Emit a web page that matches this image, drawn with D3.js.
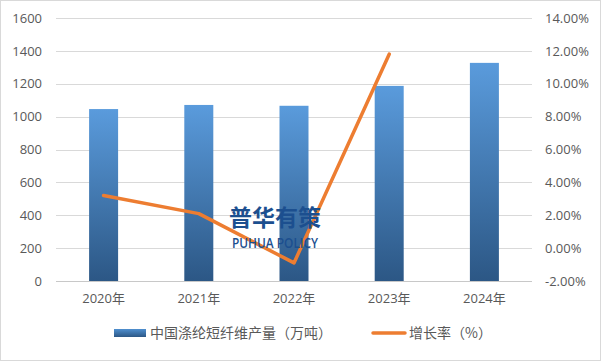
<!DOCTYPE html>
<html>
<head>
<meta charset="utf-8">
<script src="https://cdn.jsdelivr.net/npm/d3@7"></script>
<style>
  body { margin: 0; background: #fff; }
  text { font-family: "Noto Sans CJK SC", "Open Sans", sans-serif; }
</style>
</head>
<body>
<div id="chart"></div>
<script>
// data
var years = ["2020年", "2021年", "2022年", "2023年", "2024年"];
var output = [1046, 1071, 1066, 1187, 1327];
var growth = [3.2, 2.1, -0.9, 11.8, null];
var leftTicks = [0, 200, 400, 600, 800, 1000, 1200, 1400, 1600];
var rightTicks = [-2, 0, 2, 4, 6, 8, 10, 12, 14];

var svgWidth = 601;
var svgHeight = 361;
var margin = { top: 18, right: 69, bottom: 80, left: 56 };
var width = svgWidth - margin.left - margin.right;
var height = 281 - margin.top;

var svg = d3.select("#chart")
    .append("svg")
    .attr("width", svgWidth)
    .attr("height", svgHeight);

// outer border
svg.append("rect")
    .attr("x", 0.5).attr("y", 0.5)
    .attr("width", svgWidth - 1).attr("height", svgHeight - 1)
    .attr("fill", "#fff")
    .attr("stroke", "#d9d9d9");

var defs = svg.append("defs");
var grad = defs.append("linearGradient")
    .attr("id", "barGrad")
    .attr("x1", 0).attr("y1", 0).attr("x2", 0).attr("y2", 1);
grad.append("stop").attr("offset", "0%").attr("stop-color", "#5a9bdc");
grad.append("stop").attr("offset", "100%").attr("stop-color", "#2c5785");

var legGrad = defs.append("linearGradient")
    .attr("id", "legGrad")
    .attr("x1", 0).attr("y1", 0).attr("x2", 0).attr("y2", 1);
legGrad.append("stop").attr("offset", "0%").attr("stop-color", "#4f8fcf");
legGrad.append("stop").attr("offset", "100%").attr("stop-color", "#2c5785");

var g = svg.append("g")
    .attr("transform", `translate(${margin.left}, ${margin.top})`);

var x = d3.scaleBand()
    .domain(years)
    .range([0, width]);

var yLeft = d3.scaleLinear()
    .domain([0, 1600])
    .range([height, 0]);

var yRight = d3.scaleLinear()
    .domain([-2, 14])
    .range([height, 0]);

// gridlines
g.append("g")
    .selectAll("line")
    .data(leftTicks)
    .enter()
    .append("line")
    .attr("x1", 0)
    .attr("x2", width)
    .attr("y1", d => Math.round(yLeft(d)) + 0.5)
    .attr("y2", d => Math.round(yLeft(d)) + 0.5)
    .attr("stroke", d => d === 0 ? "#c8c8c8" : "#d9d9d9")
    .attr("stroke-width", 1);

var tickFont = "'Open Sans', 'Noto Sans CJK SC', sans-serif";

// left axis
var leftAxis = d3.axisLeft(yLeft).tickValues(leftTicks).tickSize(0).tickPadding(14)
    .tickFormat(d3.format("d"));
var la = g.append("g").call(leftAxis);
la.select(".domain").remove();
la.selectAll("text").attr("fill", "#595959").style("font-size", "13px")
    .style("font-family", tickFont);

// right axis
var rightAxis = d3.axisRight(yRight).tickValues(rightTicks).tickSize(0).tickPadding(13)
    .tickFormat(d => d.toFixed(2) + "%");
var ra = g.append("g").attr("transform", `translate(${width}, 0)`).call(rightAxis);
ra.select(".domain").remove();
ra.selectAll("text").attr("fill", "#595959").style("font-size", "13px")
    .style("font-family", tickFont);

// bottom axis
var bottomAxis = d3.axisBottom(x).tickSize(0).tickPadding(13);
var ba = g.append("g").attr("transform", `translate(0, ${height})`).call(bottomAxis);
ba.select(".domain").remove();
ba.selectAll("text").attr("fill", "#595959").style("font-size", "13px")
    .style("font-family", tickFont);

// bars
var barW = 29;
g.selectAll(".bar")
    .data(output)
    .enter()
    .append("rect")
    .attr("class", "bar")
    .attr("x", (d, i) => x(years[i]) + x.bandwidth() / 2 - barW / 2)
    .attr("y", d => yLeft(d))
    .attr("width", barW)
    .attr("height", d => height - yLeft(d))
    .attr("fill", "url(#barGrad)");

// growth line
var lineData = growth.map((v, i) => ({ year: years[i], v: v })).filter(d => d.v !== null);
var line = d3.line()
    .x(d => x(d.year) + x.bandwidth() / 2)
    .y(d => yRight(d.v));
g.append("path")
    .datum(lineData)
    .attr("d", line)
    .attr("fill", "none")
    .attr("stroke", "#ed7d31")
    .attr("stroke-width", 3.5)
    .attr("stroke-linecap", "round")
    .attr("stroke-linejoin", "round");

// watermark
g.append("text")
    .attr("x", 219)
    .attr("y", 208)
    .attr("text-anchor", "middle")
    .attr("fill", "#1c4f8f")
    .style("font-size", "23px")
    .style("font-weight", "bold")
    .text("普华有策");
g.append("text")
    .attr("x", 176)
    .attr("y", 230)
    .attr("textLength", 86)
    .attr("lengthAdjust", "spacingAndGlyphs")
    .attr("fill", "#1c4f8f")
    .style("font-size", "14.5px")
    .style("font-weight", "600")
    .style("font-family", "'Open Sans', sans-serif")
    .text("PUHUA POLICY");

// legend
var legend = svg.append("g").attr("transform", "translate(0, 333)");
legend.append("rect")
    .attr("x", 114).attr("y", -4)
    .attr("width", 32).attr("height", 8)
    .attr("fill", "url(#legGrad)");
legend.append("text")
    .attr("x", 150).attr("y", 0)
    .attr("dy", "0.35em")
    .attr("fill", "#595959")
    .style("font-size", "14px")
    .text("中国涤纶短纤维产量（万吨）");
legend.append("line")
    .attr("x1", 373).attr("x2", 405)
    .attr("y1", 0).attr("y2", 0)
    .attr("stroke", "#ed7d31")
    .attr("stroke-width", 3.5)
    .attr("stroke-linecap", "round");
legend.append("text")
    .attr("x", 409).attr("y", 0)
    .attr("dy", "0.35em")
    .attr("fill", "#595959")
    .style("font-size", "14px")
    .text("增长率（%）");
</script>
</body>
</html>
